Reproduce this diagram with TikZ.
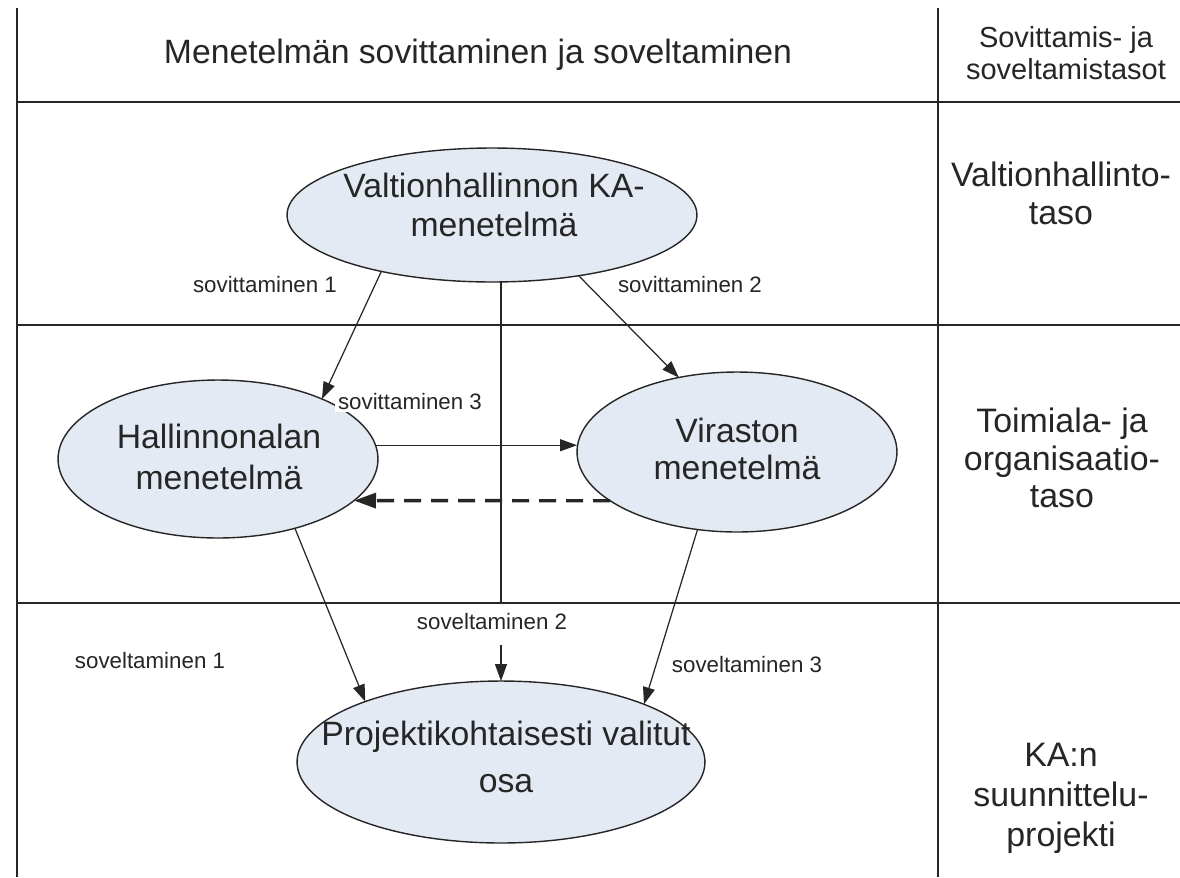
\documentclass[tikz,border=0pt]{standalone}
\usepackage{fontspec}
\setmainfont{Liberation Sans}
\usetikzlibrary{arrows.meta,shapes.geometric}
\definecolor{blobfill}{RGB}{227,234,243}
\definecolor{ink}{RGB}{38,38,38}
\begin{document}
\begin{tikzpicture}[x=0.02cm,y=-0.02cm,
  grid/.style={line width=1.1pt, draw=ink},
  blob/.style={ellipse, draw=ink, line width=0.8pt, fill=blobfill, inner sep=0pt, outer sep=0pt},
  bigtext/.style={align=center, text=ink, inner sep=0pt},
  coltext/.style={align=center, text=ink, inner sep=0pt, font=\fontsize{19.3}{21.5}\selectfont},
  lbl/.style={font=\fontsize{12.7}{14}\selectfont, text=ink, inner sep=1.5pt, fill=white, anchor=base},
  conn/.style={draw=ink, line width=0.7pt, -{Triangle[length=0.34cm,width=0.24cm]}},
  dconn/.style={draw=ink, line width=1.9pt, dash pattern=on 0.34cm off 0.2cm, -{Triangle[length=0.44cm,width=0.3cm]}},
  plain/.style={draw=ink, line width=0.7pt}
]
\fill[white] (0,0) rectangle (1180,877);
\useasboundingbox (0,0) rectangle (1180,877);

% table
\draw[grid] (17,8) -- (17,877);
\draw[grid] (938,8) -- (938,877);
\draw[grid] (17,102) -- (1180,102);
\draw[grid] (17,325) -- (1180,325);
\draw[grid] (17,603) -- (1180,603);

% headers
\node[text=ink, inner sep=0pt, anchor=base, font=\fontsize{19.2}{21}\selectfont] (head) at (478,63) {Menetelmän sovittaminen ja soveltaminen};
\node[align=center, text=ink, inner sep=0pt, font=\fontsize{16.5}{18.2}\selectfont] (colhead) at (1066,53) {Sovittamis- ja\\soveltamistasot};

% right column
\node[coltext] (lev1) at (1061,193) {Valtionhallinto-\\taso};
\node[coltext] (lev2) at (1062,458) {Toimiala- ja\\organisaatio-\\taso};
\node[coltext, font=\fontsize{19.3}{22.7}\selectfont] (lev3) at (1061,798) {KA:n\\suunnittelu-\\projekti};

% ellipses
\node[blob, minimum width=8.2cm, minimum height=2.68cm] (top) at (492,215) {};
\node[bigtext, font=\fontsize{19.2}{22}\selectfont] (toptxt) at (494,205) {Valtionhallinnon KA-\\menetelmä};
\node[blob, minimum width=6.4cm, minimum height=3.16cm] (hall) at (218,459) {};
\node[bigtext, font=\fontsize{19.2}{23.8}\selectfont] (halltxt) at (219,457) {Hallinnonalan\\menetelmä};
\node[blob, minimum width=6.4cm, minimum height=3.2cm] (vir) at (737,452) {};
\node[bigtext, font=\fontsize{19.2}{21.5}\selectfont] (virtxt) at (737,449) {Viraston\\menetelmä};
\node[blob, minimum width=8.16cm, minimum height=3.24cm] (proj) at (501,762) {};
\node[bigtext, font=\fontsize{19.2}{27}\selectfont] (projtxt) at (506,757) {Projektikohtaisesti valitut\\osa};

% connectors
\draw[conn] (top.207) -- (hall.30);
\draw[conn] (top.-35.6) -- (vir.128.2);
\coordinate (c1) at (proj.north |- top.south);
\coordinate (c2) at (proj.north |- 0,603);
\coordinate (c3) at (proj.north |- 0,645);
\draw[plain] (c1) -- (c2);
\draw[conn] (c3) -- (proj.north);
\draw[conn] (hall.5) -- (hall.5 -| vir.west);
\draw[dconn] (vir.201.2) -- (hall.-17.2);
\draw[conn] (hall.-42.8) -- (proj.156.5);
\draw[conn] (vir.243.4) -- (proj.22.2);

% labels
\node[lbl] (l1) at (265,292) {sovittaminen 1};
\node[lbl] (l2) at (690,292) {sovittaminen 2};
\node[lbl] (l3) at (410,409) {sovittaminen 3};
\node[lbl] (l4) at (492,629) {soveltaminen 2};
\node[lbl] (l5) at (150,668) {soveltaminen 1};
\node[lbl] (l6) at (747,672) {soveltaminen 3};
\end{tikzpicture}
\end{document}
